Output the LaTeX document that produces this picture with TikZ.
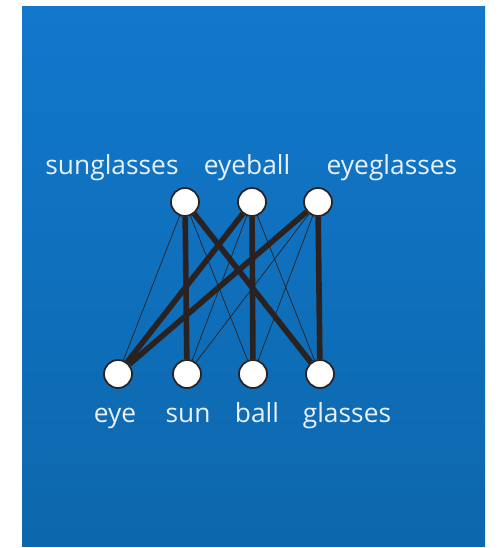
\documentclass[tikz,border=0pt]{standalone}
\usepackage{fontspec}
\setmainfont{Open Sans}
\usetikzlibrary{backgrounds}
\definecolor{slideblue}{RGB}{17,120,204}
\definecolor{slidebluedark}{RGB}{13,103,172}
\definecolor{edgedark}{RGB}{42,34,32}
\definecolor{labelwhite}{RGB}{232,241,250}

\begin{document}
\begin{tikzpicture}[
    x=0.02cm, y=-0.02cm,
    word/.style={circle, fill=white, draw=edgedark, line width=1pt,
        minimum size=0.56cm, inner sep=0pt},
    wordlabel/.style={text=labelwhite, anchor=base, inner sep=0pt,
        font=\fontsize{15}{18}\selectfont},
    strong/.style={draw=edgedark, line width=3.2pt},
    weak/.style={draw=edgedark, line width=0.4pt}
]
\useasboundingbox (0,0) rectangle (500,548);

% compound words
\node[word] (sunglasses) at (185,202) {};
\node[word] (eyeball) at (252,202) {};
\node[word] (eyeglasses) at (318,202) {};

% parts
\node[word] (eye) at (118,374) {};
\node[word] (sun) at (187,374) {};
\node[word] (ball) at (253,374) {};
\node[word] (glasses) at (320,374) {};

\node[wordlabel] (sunglasses-text) at (112,174) {sunglasses};
\node[wordlabel] (eyeball-text) at (247,174) {eyeball};
\node[wordlabel] (eyeglasses-text) at (392,174) {eyeglasses};
\node[wordlabel] (eye-text) at (115,422) {eye};
\node[wordlabel] (sun-text) at (188,422) {sun};
\node[wordlabel] (ball-text) at (257,422) {ball};
\node[wordlabel] (glasses-text) at (347,422) {glasses};

\begin{scope}[on background layer]
\fill[top color=slideblue, bottom color=slidebluedark] (22,6) rectangle (485,546);
\foreach \a/\b in {sunglasses/eye, sunglasses/ball, eyeball/sun,
    eyeball/glasses, eyeglasses/sun, eyeglasses/ball}
    \draw[weak] (\a) -- (\b);
\foreach \a/\b in {sunglasses/sun, sunglasses/glasses, eyeball/eye,
    eyeball/ball, eyeglasses/eye, eyeglasses/glasses}
    \draw[strong] (\a) -- (\b);
\end{scope}

\end{tikzpicture}
\end{document}
